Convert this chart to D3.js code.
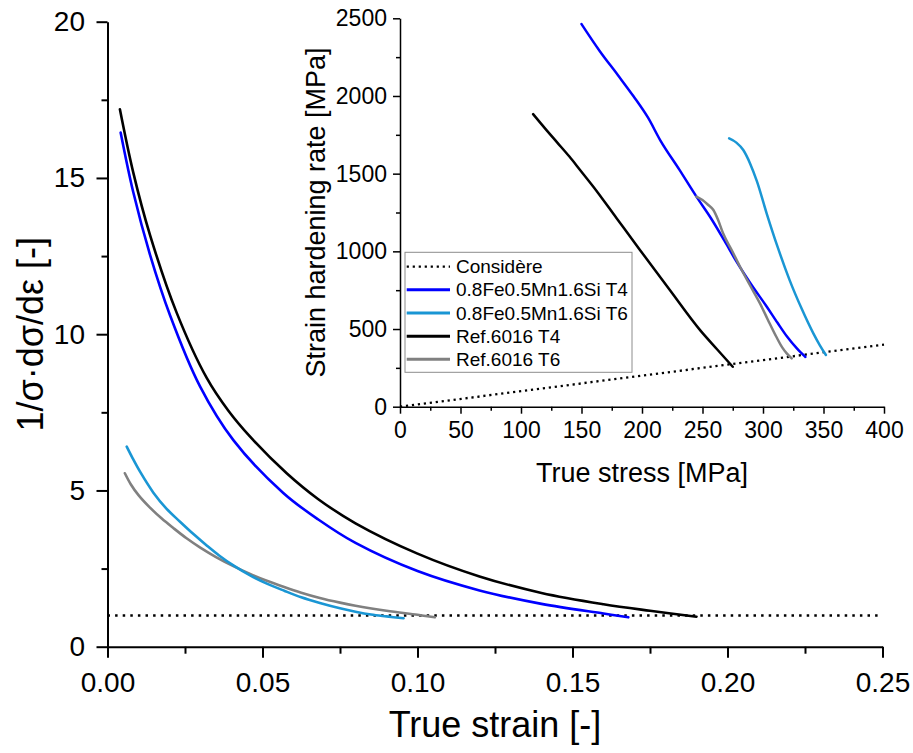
<!DOCTYPE html>
<html>
<head>
<meta charset="utf-8">
<script src="https://cdn.jsdelivr.net/npm/d3@7"></script>
<style>
  html, body { margin: 0; padding: 0; background: #fff; }
  svg { display: block; font-family: "Liberation Sans", Arial, sans-serif; }
</style>
</head>
<body>
<svg id="chart" width="913" height="753"></svg>
<script>
// ---------- Data ----------
// Main plot: true strain [-] vs 1/σ·dσ/dε [-]
const mainXTicks = [0, 0.05, 0.10, 0.15, 0.20, 0.25];
const mainXMinor = [0.025, 0.075, 0.125, 0.175, 0.225];
const mainYTicks = [0, 5, 10, 15, 20];
const mainYMinor = [2.5, 7.5, 12.5, 17.5];
const considereMain = [[0, 1], [0.25, 1]];

const mainFeT4 = [[0.00425,16.45],[0.0083,14.55],[0.0137,12.55],[0.0202,10.6],[0.0298,8.34],[0.0406,6.61],[0.0567,4.92],[0.068,4.07],[0.08,3.32],[0.10,2.42],[0.12,1.8],[0.14,1.37],[0.16,1.06],[0.168,0.94]];
const mainFeT6 = [[0.0062,6.4],[0.008,6.05],[0.0105,5.6],[0.0148,4.93],[0.019,4.42],[0.0234,4.0],[0.028,3.58],[0.032,3.24],[0.036,2.92],[0.0406,2.6],[0.046,2.28],[0.0514,2.02],[0.057,1.79],[0.0625,1.58],[0.0685,1.4],[0.075,1.23],[0.08,1.12],[0.085,1.03],[0.09,0.97],[0.0955,0.91]];
const mainRefT4 = [[0.004,17.2],[0.0083,15.18],[0.0137,13.18],[0.0223,10.69],[0.032,8.6],[0.039,7.55],[0.046,6.72],[0.0578,5.55],[0.068,4.72],[0.08,3.95],[0.10,2.98],[0.12,2.25],[0.14,1.72],[0.16,1.36],[0.175,1.15],[0.19,0.96]];
const mainRefT6 = [[0.0056,5.55],[0.0075,5.2],[0.01,4.85],[0.0137,4.45],[0.0175,4.1],[0.0212,3.8],[0.0255,3.47],[0.0298,3.18],[0.035,2.87],[0.0406,2.58],[0.046,2.33],[0.0514,2.11],[0.057,1.91],[0.0625,1.73],[0.0685,1.56],[0.075,1.41],[0.08,1.31],[0.09,1.15],[0.10,1.02],[0.1056,0.94]];

// Inset: true stress [MPa] vs strain hardening rate [MPa]
const insetXTicks = [0, 50, 100, 150, 200, 250, 300, 350, 400];
const insetXMinor = [25, 75, 125, 175, 225, 275, 325, 375];
const insetYTicks = [0, 500, 1000, 1500, 2000, 2500];
const insetYMinor = [250, 750, 1250, 1750, 2250];
const considereInset = [[0, 0], [400, 400]];

const insetFeT4 = [[150,2463],[165,2290],[180,2135],[193,1998],[205,1860],[215,1716],[231,1524],[245,1352],[257,1213],[268,1070],[278,935],[290,790],[303,645],[312,540],[320,450],[328,375],[335,320]];
const insetFeT6 = [[272,1727],[278,1700],[283.7,1652],[289.3,1566],[295,1450],[303,1245],[312,1030],[322,815],[332,630],[341.6,472],[347,395],[352,333]];
const insetRefT4 = [[110,1883],[120,1790],[130,1700],[140,1610],[148.8,1524],[159.8,1416],[179,1213],[198.3,1009],[223,751],[248,493],[262,370],[275,257]];
const insetRefT6 = [[245,1352],[250,1330],[254.8,1298],[259,1266],[263,1200],[267,1116],[274,1010],[281,901],[289,785],[297.5,665],[304,560],[311,450],[316,380],[319.6,343],[323.7,311]];

const seriesNames = ["Considère", "0.8Fe0.5Mn1.6Si T4", "0.8Fe0.5Mn1.6Si T6", "Ref.6016 T4", "Ref.6016 T6"];
const seriesColors = ["#000000", "#0000ff", "#1a96d4", "#000000", "#808080"];

// ---------- Drawing ----------
const svg = d3.select("#chart");
const FONT = "Liberation Sans, Arial, sans-serif";

function styleAxis(g, width) {
  g.selectAll("path.domain").attr("stroke", "#000").attr("stroke-width", width);
  g.selectAll(".tick line").attr("stroke", "#000").attr("stroke-width", width);
}

// Main scales
const mx = d3.scaleLinear().domain([0, 0.25]).range([107.5, 882.5]);
const my = d3.scaleLinear().domain([0, 20]).range([646.7, 21.7]);

// Main curves
const mainLine = d3.line().x(d => mx(d[0])).y(d => my(d[1])).curve(d3.curveCatmullRom.alpha(0.5));
svg.append("path").datum(considereMain).attr("d", d3.line().x(d => mx(d[0])).y(d => my(d[1])))
  .attr("fill", "none").attr("stroke", "#000").attr("stroke-width", 2.5).attr("stroke-dasharray", "2.5,5.1");
[[mainRefT6, 4], [mainFeT6, 2], [mainFeT4, 1], [mainRefT4, 3]].forEach(([data, i]) => {
  svg.append("path").datum(data).attr("d", mainLine)
    .attr("fill", "none").attr("stroke", seriesColors[i]).attr("stroke-width", 2.6)
    .attr("stroke-linejoin", "round").attr("stroke-linecap", "round");
});

// Main axes
const mxAxis = svg.append("g").attr("transform", `translate(0,${my(0)})`)
  .call(d3.axisBottom(mx).tickValues(mainXTicks).tickFormat(d3.format(".2f")).tickSize(11).tickSizeOuter(0).tickPadding(14));
styleAxis(mxAxis, 2);
mxAxis.selectAll("text").attr("font-family", FONT).attr("font-size", 28).attr("fill", "#000");
const mxMinor = svg.append("g").attr("transform", `translate(0,${my(0)})`)
  .call(d3.axisBottom(mx).tickValues(mainXMinor).tickFormat("").tickSize(7).tickSizeOuter(0));
mxMinor.select("path.domain").remove();
styleAxis(mxMinor, 2);

const myAxis = svg.append("g").attr("transform", `translate(${mx(0)},0)`)
  .call(d3.axisLeft(my).tickValues(mainYTicks).tickFormat(d3.format("d")).tickSize(11).tickSizeOuter(0).tickPadding(11.5));
styleAxis(myAxis, 2);
myAxis.selectAll("text").attr("font-family", FONT).attr("font-size", 28).attr("fill", "#000");
const myMinor = svg.append("g").attr("transform", `translate(${mx(0)},0)`)
  .call(d3.axisLeft(my).tickValues(mainYMinor).tickFormat("").tickSize(6).tickSizeOuter(0));
myMinor.select("path.domain").remove();
styleAxis(myMinor, 2);

svg.append("text").attr("x", (mx(0) + mx(0.25)) / 2).attr("y", 737)
  .attr("text-anchor", "middle").attr("font-family", FONT).attr("font-size", 36).text("True strain [-]");
svg.append("text").attr("transform", `translate(43,${(my(0) + my(20)) / 2}) rotate(-90)`)
  .attr("text-anchor", "middle").attr("font-family", FONT).attr("font-size", 36).text("1/σ·dσ/dε [-]");

// Inset scales
const ix = d3.scaleLinear().domain([0, 400]).range([400, 884]);
const iy = d3.scaleLinear().domain([0, 2500]).range([406.7, 18.3]);

const insetLine = d3.line().x(d => ix(d[0])).y(d => iy(d[1])).curve(d3.curveMonotoneX);
svg.append("path").datum(considereInset).attr("d", d3.line().x(d => ix(d[0])).y(d => iy(d[1])))
  .attr("fill", "none").attr("stroke", "#000").attr("stroke-width", 2.3).attr("stroke-dasharray", "2.2,3.8");
[[insetRefT4, 3], [insetFeT6, 2], [insetFeT4, 1], [insetRefT6, 4]].forEach(([data, i]) => {
  svg.append("path").datum(data).attr("d", insetLine)
    .attr("fill", "none").attr("stroke", seriesColors[i]).attr("stroke-width", 2.5)
    .attr("stroke-linejoin", "round").attr("stroke-linecap", "round");
});

const ixAxis = svg.append("g").attr("transform", `translate(0,${iy(0)})`)
  .call(d3.axisBottom(ix).tickValues(insetXTicks).tickFormat(d3.format("d")).tickSize(7).tickSizeOuter(0).tickPadding(8));
styleAxis(ixAxis, 1.5);
ixAxis.selectAll("text").attr("font-family", FONT).attr("font-size", 23).attr("fill", "#000");
const ixMinor = svg.append("g").attr("transform", `translate(0,${iy(0)})`)
  .call(d3.axisBottom(ix).tickValues(insetXMinor).tickFormat("").tickSize(4).tickSizeOuter(0));
ixMinor.select("path.domain").remove();
styleAxis(ixMinor, 1.5);

const iyAxis = svg.append("g").attr("transform", `translate(${ix(0)},0)`)
  .call(d3.axisLeft(iy).tickValues(insetYTicks).tickFormat(d3.format("d")).tickSize(7).tickSizeOuter(0).tickPadding(6));
styleAxis(iyAxis, 1.5);
iyAxis.selectAll("text").attr("font-family", FONT).attr("font-size", 23).attr("fill", "#000");
const iyMinor = svg.append("g").attr("transform", `translate(${ix(0)},0)`)
  .call(d3.axisLeft(iy).tickValues(insetYMinor).tickFormat("").tickSize(4).tickSizeOuter(0));
iyMinor.select("path.domain").remove();
styleAxis(iyMinor, 1.5);

svg.append("text").attr("x", (ix(0) + ix(400)) / 2).attr("y", 482)
  .attr("text-anchor", "middle").attr("font-family", FONT).attr("font-size", 27).text("True stress [MPa]");
svg.append("text").attr("transform", `translate(325,${(iy(0) + iy(2500)) / 2}) rotate(-90)`)
  .attr("text-anchor", "middle").attr("font-family", FONT).attr("font-size", 27).text("Strain hardening rate [MPa]");

// Legend
const legend = svg.append("g").attr("transform", "translate(405,252.3)");
legend.append("rect").attr("x", 0).attr("y", 0).attr("width", 227).attr("height", 120)
  .attr("fill", "#fff").attr("stroke", "#8c8c8c").attr("stroke-width", 1);
seriesNames.forEach((name, i) => {
  const cy = 14.4 + i * 23.15;
  legend.append("line").attr("x1", 1.7).attr("x2", 45).attr("y1", cy).attr("y2", cy)
    .attr("stroke", seriesColors[i]).attr("stroke-width", i === 0 ? 2.3 : 3)
    .attr("stroke-dasharray", i === 0 ? "2.2,3.8" : null);
  legend.append("text").attr("x", 51).attr("y", cy).attr("dy", "0.35em")
    .attr("font-family", FONT).attr("font-size", 19).attr("fill", "#000").text(name);
});
</script>
</body>
</html>
